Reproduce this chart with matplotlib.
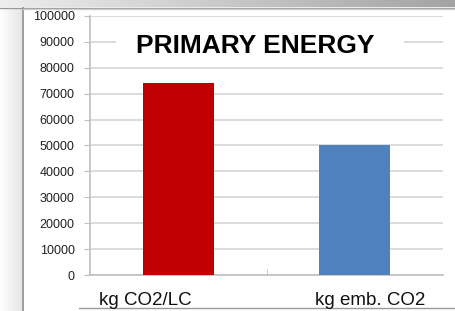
import matplotlib
matplotlib.use("Agg")
import matplotlib.pyplot as plt
import numpy as np
from matplotlib.patches import Rectangle
from matplotlib.lines import Line2D

categories = ["kg CO2/LC", "kg emb. CO2"]
values = [74000, 50000]
bar_colors = ["#C00000", "#4F81BD"]
title = "PRIMARY ENERGY"
yticks = list(range(0, 100001, 10000))

W, H = 456, 311
fig = plt.figure(figsize=(W / 100, H / 100), dpi=100)
plt.rcParams['font.family'] = ['Liberation Sans', 'DejaVu Sans']

# Background decorations (window-like frame)
bg = fig.add_axes([0, 0, 1, 1], zorder=-10)
bg.set_xlim(0, W)
bg.set_ylim(H, 0)
bg.axis("off")
grad = np.linspace(0.93, 0.64, 256).reshape(1, -1)
bg.imshow(np.dstack([grad, grad, grad]), extent=[0, W, 7, 0], aspect="auto")
bg.add_line(Line2D([0, W], [7.5, 7.5], color="#999999", lw=1))
lgrad = np.linspace(1.0, 0.9, 64).reshape(1, -1)
bg.imshow(np.dstack([lgrad, lgrad, lgrad]), extent=[0, 22, H, 8], aspect="auto")
bg.add_line(Line2D([23, 23], [8, H], color="#8c8c8c", lw=1.2))
bg.add_line(Line2D([23, W], [8.5, 8.5], color="#cfcfcf", lw=1))
bg.add_line(Line2D([79, W], [308, 308], color="#9a9a9a", lw=1))

ax = fig.add_axes([90 / W, 1 - 275 / H, (443 - 90) / W, (275 - 16) / H])
x = np.arange(len(categories))
ax.bar(x, values, width=0.4, color=bar_colors, zorder=3)
ax.set_xlim(-0.5, 1.5)
ax.set_ylim(0, 100000)
ax.set_yticks(yticks)
ax.set_yticklabels([str(v) for v in yticks], fontsize=9, color="#222222")
ax.set_xticks(x)
ax.set_xticklabels([])
ax.tick_params(axis="x", length=0)
# category labels (offset as in the original)
label_shift_pt = [-23.5, 10.8]
for xi, cat, dx in zip(x, categories, label_shift_pt):
    ax.annotate(cat, xy=(xi, 0), xycoords=("data", "axes fraction"),
                xytext=(dx, -12.5), textcoords="offset points",
                ha="center", va="top", fontsize=13.5, color="#111111",
                annotation_clip=False)
ax.set_xticks([0.5], minor=True)
ax.tick_params(axis="x", which="minor", length=4, color="#bfbfbf", direction="in")
ax.tick_params(axis="y", length=4, color="#bfbfbf", pad=7)
ax.grid(axis="y", color="#d9d9d9", lw=1.3, zorder=0)
ax.set_axisbelow(True)
for s in ["top", "right"]:
    ax.spines[s].set_visible(False)
ax.spines["left"].set_color("#bfbfbf")
ax.spines["bottom"].set_color("#bfbfbf")
ax.spines["left"].set_linewidth(1.2)
ax.spines["bottom"].set_linewidth(1.2)

# title box
ax.add_patch(Rectangle((0.074, 0.804), 0.816, 0.192, transform=ax.transAxes,
                       facecolor="white", edgecolor="none", zorder=2))
ax.text(0.469, 0.886, title, transform=ax.transAxes, ha="center", va="center",
        fontsize=19, fontweight="bold", color="#000000", zorder=4)

fig.savefig("out.png", dpi=100)
